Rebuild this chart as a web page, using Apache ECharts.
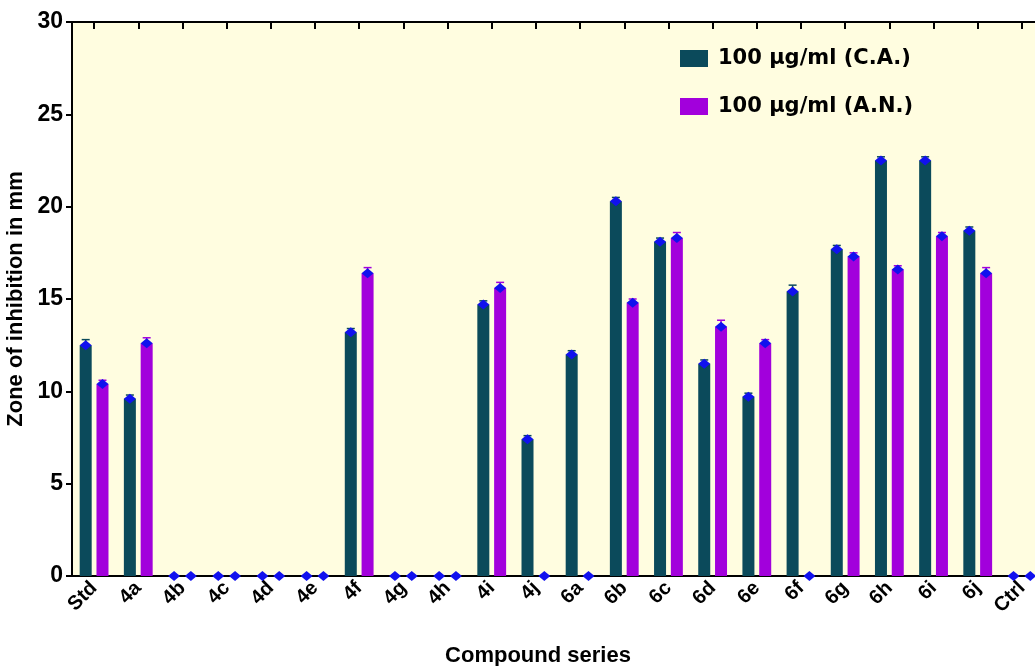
<!DOCTYPE html>
<html>
<head>
<meta charset="utf-8">
<script src="https://cdn.jsdelivr.net/npm/echarts@6/dist/echarts.min.js"></script>
<style>
  html, body { margin: 0; padding: 0; background: #fff; }
  #main { width: 1035px; height: 666px; }
</style>
</head>
<body>
<div id="main"></div>
<script>
// categories and readings (mm)
const categories = ['Std', '4a', '4b', '4c', '4d', '4e', '4f', '4g', '4h', '4i', '4j',
  '6a', '6b', '6c', '6d', '6e', '6f', '6g', '6h', '6i', '6j', 'Ctrl'];
const caValues = [12.5, 9.6, 0, 0, 0, 0, 13.2, 0, 0, 14.7, 7.4,
  12.0, 20.3, 18.1, 11.5, 9.7, 15.4, 17.7, 22.5, 22.5, 18.7, 0];
const anValues = [10.4, 12.6, 0, 0, 0, 0, 16.4, 0, 0, 15.6, 0,
  0, 14.8, 18.3, 13.5, 12.6, 0, 17.3, 16.6, 18.4, 16.4, 0];
const caErrors = [0.3, 0.2, 0, 0, 0, 0, 0.2, 0, 0, 0.2, 0.2,
  0.2, 0.2, 0.2, 0.2, 0.2, 0.35, 0.2, 0.2, 0.2, 0.2, 0];
const anErrors = [0.2, 0.3, 0, 0, 0, 0, 0.3, 0, 0, 0.3, 0,
  0, 0.2, 0.3, 0.35, 0.2, 0, 0.2, 0.2, 0.2, 0.3, 0];
const yTicks = { min: 0, max: 30, interval: 5 };

const BAR_W = 12;
const GAP = 4.8;
const FONT = '"Liberation Sans", Arial, sans-serif';
const DARK = '#0b4a5b';
const MAGENTA = '#a200dc';

const chart = echarts.init(document.getElementById('main'));

// diamond marker + error bar drawn at each bar top
function markerSeries(values, errors, side, color) {
  return {
    type: 'custom',
    silent: true,
    clip: false,
    z: 5,
    data: values.map((v, i) => [i, v, errors[i]]),
    renderItem: function (params, api) {
      const p = api.coord([api.value(0), api.value(1)]);
      const x = p[0] + side * (BAR_W + GAP) / 2;
      const y = p[1];
      const hi = api.coord([api.value(0), api.value(1) + api.value(2)])[1];
      const children = [];
      if (api.value(2) > 0) {
        children.push({
          type: 'line',
          shape: { x1: x, y1: y, x2: x, y2: hi },
          style: { stroke: color, lineWidth: 1.5 }
        });
        children.push({
          type: 'line',
          shape: { x1: x - 4, y1: hi, x2: x + 4, y2: hi },
          style: { stroke: color, lineWidth: 1.5 }
        });
      }
      children.push({
        type: 'polygon',
        shape: { points: [[x, y - 5], [x + 6, y], [x, y + 5], [x - 6, y]] },
        style: { fill: '#1111ee' }
      });
      return { type: 'group', children: children };
    }
  };
}

const option = {
  backgroundColor: '#ffffff',
  animation: false,
  grid: {
    left: 72, top: 22, width: 972, height: 554,
    outerBoundsMode: 'none',
    containLabel: false,
    show: true, backgroundColor: '#fffde0', borderWidth: 0
  },
  legend: {
    data: ['100 µg/ml (C.A.)', '100 µg/ml (A.N.)'],
    orient: 'vertical',
    left: 675, top: 43,
    itemWidth: 28, itemHeight: 17, itemGap: 27,
    icon: 'rect',
    textStyle: {
      fontFamily: '"DejaVu Sans", sans-serif', fontWeight: 'bold', fontSize: 21,
      color: '#000', padding: [0, 0, 0, 5]
    }
  },
  xAxis: [
    {
      type: 'category',
      data: categories,
      position: 'bottom',
      axisLine: { lineStyle: { color: '#000', width: 2 } },
      axisTick: { alignWithLabel: true, length: 6, lineStyle: { color: '#000', width: 2 } },
      axisLabel: {
        rotate: 45, interval: 0, margin: 9,
        fontFamily: FONT, fontWeight: 'bold', fontSize: 20, color: '#000'
      },
      name: 'Compound series',
      nameLocation: 'middle',
      nameGap: 69,
      nameTextStyle: {
        fontFamily: FONT, fontWeight: 'bold', fontSize: 22, color: '#000',
        padding: [0, 40, 0, 0]
      }
    },
    {
      type: 'category',
      data: categories,
      position: 'top',
      axisLine: { lineStyle: { color: '#000', width: 2 } },
      axisTick: { show: true, alignWithLabel: true, inside: true, length: 7, lineStyle: { color: '#000', width: 2 } },
      axisLabel: { show: false }
    }
  ],
  yAxis: {
    type: 'value',
    min: yTicks.min, max: yTicks.max, interval: yTicks.interval,
    axisLine: { show: true, lineStyle: { color: '#000', width: 2 } },
    axisTick: { show: true, length: 6, lineStyle: { color: '#000', width: 2 } },
    splitLine: { show: false },
    axisLabel: { fontFamily: FONT, fontWeight: 'bold', fontSize: 23, color: '#000', margin: 9 },
    name: 'Zone of inhibition in mm',
    nameLocation: 'middle',
    nameGap: 42,
    nameTextStyle: { fontFamily: FONT, fontWeight: 'bold', fontSize: 22, color: '#000' }
  },
  series: [
    {
      name: '100 µg/ml (C.A.)',
      type: 'bar',
      data: caValues,
      barWidth: BAR_W,
      barGap: '40%',
      itemStyle: { color: DARK }
    },
    {
      name: '100 µg/ml (A.N.)',
      type: 'bar',
      data: anValues,
      barWidth: BAR_W,
      itemStyle: { color: MAGENTA }
    },
    markerSeries(caValues, caErrors, -1, DARK),
    markerSeries(anValues, anErrors, 1, MAGENTA)
  ]
};

chart.setOption(option);
</script>
</body>
</html>
